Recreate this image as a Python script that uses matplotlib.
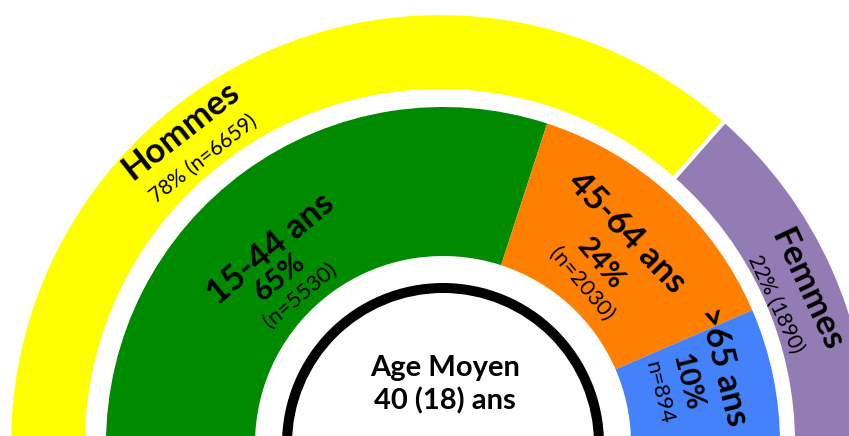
import matplotlib.pyplot as plt

# outer ring: sex, inner ring: age groups
sex_labels = ['Hommes', 'Femmes']
sex_text = ['78% (n=6659)', '22% (1890)']
sex_share = [73, 27]          # share of the half ring as drawn
sex_colors = ['#FFFF00', '#937CB4']

age_labels = ['15-44 ans', '45-64 ans', '>65 ans']
age_pct = ['65%', '24%', '10%']
age_n = ['(n=5530)', '(n=2030)', 'n=894']
age_share = [60, 27, 13]
age_colors = ['#008A00', '#FF7F00', '#4382FA']

center_text = 'Age Moyen\n40 (18) ans'

plt.rcParams['font.family'] = ['Lato', 'DejaVu Sans']

fig = plt.figure(figsize=(8.49, 4.36), dpi=100)
ax = fig.add_axes([0, 0, 1, 1])

cx, cy = 443, -8  # centre of the half donut (below the picture edge)

# outer ring, the last wedge is the hidden lower half
ax.pie(sex_share + [sum(sex_share)], colors=sex_colors + ['none'],
       radius=431, center=(cx - 3, cy), startangle=180, counterclock=False,
       wedgeprops=dict(width=78, edgecolor='white', linewidth=3))
ax.pie(age_share + [sum(age_share)], colors=age_colors + ['none'],
       radius=337, center=(cx, cy), startangle=180, counterclock=False,
       wedgeprops=dict(width=149, linewidth=0))
# black arc around the centre
ax.pie([1, 1], colors=['black', 'none'], radius=161, center=(cx, cy),
       startangle=0, wedgeprops=dict(width=10, linewidth=0))

ax.set_xlim(0, 849)
ax.set_ylim(0, 436)
ax.set_aspect('auto')
ax.axis('off')


def lab(x, y, s, size, rot, weight='normal'):
    ax.text(x, 436 - y, s, fontsize=size, rotation=rot, fontweight=weight,
            ha='center', va='center', rotation_mode='anchor')


# Hommes / Femmes
lab(181, 130, sex_labels[0], 25, 38, 'bold')
lab(203, 159, sex_text[0], 15, 38)
lab(807, 290, sex_labels[1], 25, -65, 'bold')
lab(776, 304, sex_text[1], 15, -65)

# age groups
lab(271, 249, age_labels[0], 25, 40, 'bold')
lab(280, 277, age_pct[0], 21, 40, 'bold')
lab(300, 295, age_n[0], 16, 40)

lab(627, 233, age_labels[1], 25, -46, 'bold')
lab(601, 264, age_pct[1], 21, -50, 'bold')
lab(582, 284, age_n[1], 16, -50)

lab(723, 366, age_labels[2], 25, -76, 'bold')
lab(687, 382, age_pct[2], 21, -76, 'bold')
lab(659, 393, age_n[2], 16, -76)

ax.text(cx + 2, 436 - 385, center_text, fontsize=21, fontweight='bold',
        ha='center', va='center', linespacing=1.3)

fig.savefig('out.png', dpi=100)
